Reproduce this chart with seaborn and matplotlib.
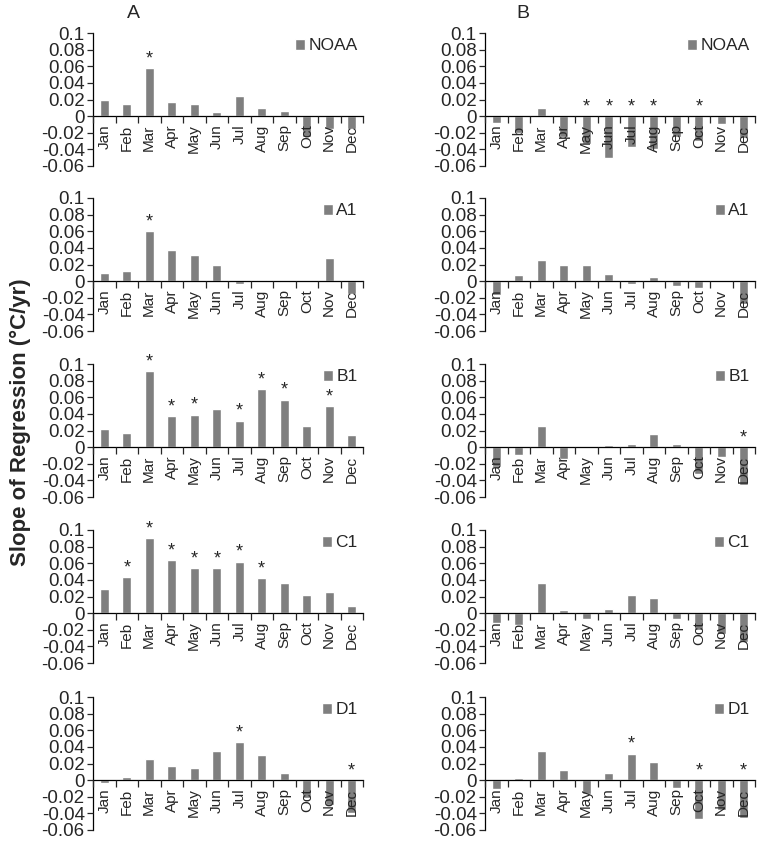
import numpy as np
import pandas as pd
import seaborn as sns
import matplotlib.pyplot as plt
from matplotlib.ticker import FuncFormatter, MultipleLocator

# Data
months = ["Jan", "Feb", "Mar", "Apr", "May", "Jun", "Jul", "Aug", "Sep", "Oct", "Nov", "Dec"]
series_names = ["NOAA", "A1", "B1", "C1", "D1"]

# column A
noaa_a = [0.019, 0.015, 0.058, 0.017, 0.014, 0.0045, 0.024, 0.010, 0.006, -0.025, -0.016, -0.015]
a1_a = [0.010, 0.012, 0.060, 0.038, 0.032, 0.019, -0.004, 0.001, -0.001, 0.0, 0.028, -0.015]
b1_a = [0.022, 0.017, 0.091, 0.037, 0.039, 0.046, 0.032, 0.070, 0.057, 0.026, 0.049, 0.014]
c1_a = [0.029, 0.043, 0.090, 0.064, 0.054, 0.054, 0.062, 0.042, 0.036, 0.022, 0.026, 0.009]
d1_a = [-0.004, 0.004, 0.026, 0.017, 0.015, 0.035, 0.046, 0.030, 0.009, -0.022, -0.030, -0.040]

# column B
noaa_b = [-0.008, -0.020, 0.010, -0.025, -0.033, -0.050, -0.037, -0.040, -0.025, -0.030, -0.010, -0.026]
a1_b = [-0.017, 0.007, 0.026, 0.020, 0.020, 0.009, -0.004, 0.005, -0.006, -0.008, 0.0, -0.027]
b1_b = [-0.024, -0.009, 0.025, -0.014, 0.0, 0.003, 0.004, 0.016, 0.004, -0.032, -0.012, -0.045]
c1_b = [-0.012, -0.014, 0.036, 0.004, -0.007, 0.005, 0.022, 0.018, -0.007, -0.020, -0.025, -0.035]
d1_b = [-0.011, 0.002, 0.035, 0.012, -0.017, 0.008, 0.032, 0.022, -0.009, -0.047, -0.036, -0.045]

# significant months (asterisks)
stars_a = [["Mar"], ["Mar"], ["Mar", "Apr", "May", "Jul", "Aug", "Sep", "Nov"],
           ["Feb", "Mar", "Apr", "May", "Jun", "Jul", "Aug"], ["Jul", "Dec"]]
stars_b = [["May", "Jun", "Jul", "Aug", "Oct"], [], ["Dec"], [], ["Jul", "Oct", "Dec"]]

col_a = [noaa_a, a1_a, b1_a, c1_a, d1_a]
col_b = [noaa_b, a1_b, b1_b, c1_b, d1_b]

sns.set_style("white")
plt.rcParams["font.family"] = ["Liberation Sans", "DejaVu Sans"]
plt.rcParams["axes.unicode_minus"] = False

W, H = 759, 841
fig = plt.figure(figsize=(W / 100, H / 100), dpi=100)

bar_color = "#7f7f7f"
row_tops = [33, 198, 364, 530, 697]
panel_h = 133
col_lefts = [93, 485]
col_widths = [270, 270]


def fmt(v, pos):
    if abs(v) < 1e-9:
        return "0"
    return ("%.2f" % v).rstrip("0")


for c, (col, stars) in enumerate([(col_a, stars_a), (col_b, stars_b)]):
    for r in range(5):
        top = row_tops[r]
        ax = fig.add_axes([col_lefts[c] / W, 1 - (top + panel_h) / H,
                           col_widths[c] / W, panel_h / H])
        df = pd.DataFrame({"month": months, "slope": col[r]})
        sns.barplot(data=df, x="month", y="slope", order=months, color=bar_color,
                    width=0.38, saturation=1, ax=ax, label=series_names[r])
        ax.set_axisbelow(False)
        ax.set_ylim(-0.06, 0.1)
        ax.set_xlim(-0.5, 11.5)
        ax.yaxis.set_major_locator(MultipleLocator(0.02))
        ax.yaxis.set_major_formatter(FuncFormatter(fmt))
        ax.set_xlabel("")
        ax.set_ylabel("")

        for s in ["top", "right"]:
            ax.spines[s].set_visible(False)
        ax.spines["bottom"].set_position(("data", 0))
        for s in ["left", "bottom"]:
            ax.spines[s].set_color("black")
            ax.spines[s].set_linewidth(0.9)

        ax.tick_params(axis="y", which="major", left=True, direction="out", length=4,
                       width=0.9, labelsize=13.5, pad=2)
        ax.set_xticks(range(12))
        ax.set_xticklabels(months, rotation=90, fontsize=11)
        ax.tick_params(axis="x", which="major", length=0, pad=6)
        ax.set_xticks(np.arange(-0.5, 12, 1), minor=True)
        ax.tick_params(axis="x", which="minor", bottom=True, direction="out",
                       length=5, width=0.9)

        # asterisks
        for m in stars[r]:
            i = months.index(m)
            v = max(col[r][i], 0)
            ax.text(i, v + 0.001, "*", ha="center", va="bottom", fontsize=13)

        ax.legend(loc="upper right", frameon=False, fontsize=12.5,
                  handlelength=0.6, handleheight=0.6, handletextpad=0.2,
                  borderaxespad=0.0, borderpad=0.3)

fig.text(133 / W, 1 - 13 / H, "A", ha="center", va="center", fontsize=14)
fig.text(523 / W, 1 - 13 / H, "B", ha="center", va="center", fontsize=14)
fig.text(20 / W, 1 - 422 / H, "Slope of Regression (°C/yr)", rotation=90,
         ha="center", va="center", fontsize=16, fontweight="bold")

fig.savefig("out.png", dpi=100)
